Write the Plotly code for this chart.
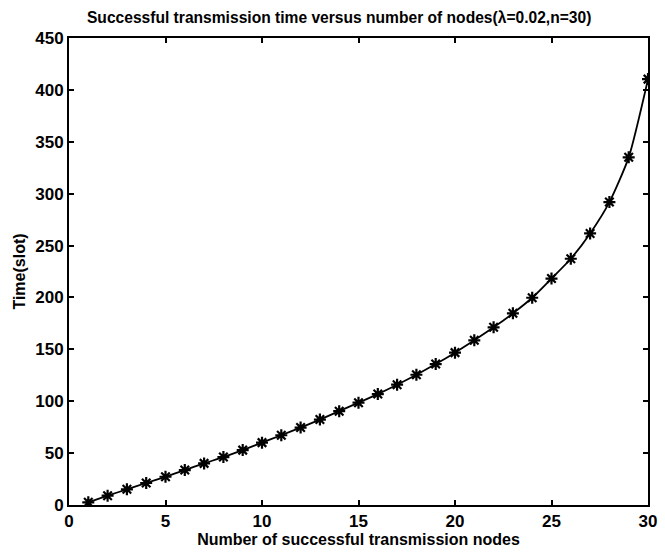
import plotly.graph_objects as go

# Number of successfully transmitting nodes and the corresponding time (slots)
nodes = list(range(1, 31))
time_slots = [2.6, 9.0, 15.1, 21.2, 27.2, 33.7, 40.1, 46.2, 52.9, 60.1,
              67.2, 74.6, 82.3, 90.4, 98.6, 106.9, 115.9, 125.5, 135.8, 146.8,
              158.7, 171.2, 184.7, 199.7, 218.2, 237.3, 261.7, 291.9, 335.0, 410.4]

x_ticks = [0, 5, 10, 15, 20, 25, 30]
y_ticks = [0, 50, 100, 150, 200, 250, 300, 350, 400, 450]

font_family = "Liberation Sans, Arial, sans-serif"

fig = go.Figure()
fig.add_trace(go.Scatter(
    x=nodes, y=time_slots,
    mode="lines+markers",
    line=dict(color="black", width=1.8, shape="spline", smoothing=0.6),
    marker=dict(symbol="asterisk-open", size=10, color="black",
                line=dict(color="black", width=2.2)),
    showlegend=False,
))

axis_common = dict(
    showline=True, linecolor="black", linewidth=2,
    mirror="ticks", ticks="inside", ticklen=5, tickwidth=1.5, tickcolor="black",
    showgrid=False, zeroline=False,
    tickfont=dict(family=font_family, size=17, color="black", weight="bold"),
)

fig.update_layout(
    width=665, height=555,
    margin=dict(l=69, r=8, t=38, b=50),
    paper_bgcolor="white", plot_bgcolor="white",
    title=dict(
        text="Successful transmission time versus number of nodes(λ=0.02,n=30)",
        x=0.51, xanchor="center", y=0.969, yanchor="middle",
        font=dict(family=font_family, size=15.6, color="black", weight="bold"),
    ),
    xaxis=dict(
        range=[0, 30], tickvals=x_ticks, ticktext=[str(v) for v in x_ticks],
        title=dict(text="Number of successful transmission nodes",
                   font=dict(family=font_family, size=16, color="black", weight="bold"),
                   standoff=0),
        **axis_common,
    ),
    yaxis=dict(
        range=[0, 450], tickvals=y_ticks, ticktext=[str(v) for v in y_ticks],
        title=dict(text="Time(slot)",
                   font=dict(family=font_family, size=16, color="black", weight="bold"),
                   standoff=6),
        **axis_common,
    ),
)

fig.write_html("out.html")
